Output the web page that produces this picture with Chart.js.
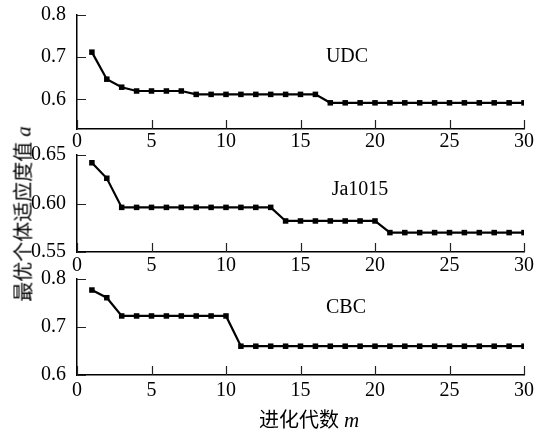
<!DOCTYPE html>
<html>
<head>
<meta charset="utf-8">
<script src="https://cdn.jsdelivr.net/npm/chart.js@4/dist/chart.umd.min.js"></script>
<style>
  body { margin: 0; background: #fff; }
  #wrap { position: relative; width: 539px; height: 430px; overflow: hidden; background: #fff; }
  canvas { position: absolute; left: 0; }
  .tag { position: absolute; font-family: "Liberation Serif", serif; font-size: 20px; color: #000; transform: translate(-50%, -50%); white-space: nowrap; }
  .cjk { font-family: "Noto Sans CJK SC", sans-serif; font-size: 20px; }
  .it { font-family: "Liberation Serif", serif; font-style: italic; font-size: 21px; }
</style>
</head>
<body>
<div id="wrap">
  <canvas id="c1"></canvas>
  <canvas id="c2"></canvas>
  <canvas id="c3"></canvas>
  <div class="tag" style="left:347px; top:55px;">UDC</div>
  <div class="tag" style="left:360px; top:188px;">Ja1015</div>
  <div class="tag" style="left:346px; top:306px;">CBC</div>
  <div class="tag" style="left:22px; top:214px; transform: translate(-50%, -50%) rotate(-90deg);"><span class="cjk">最优个体适应度值</span> <span class="it">a</span></div>
  <div class="tag" style="left:309px; top:418px;"><span class="cjk">进化代数</span> <span class="it">m</span></div>
</div>
<script>
// 进化代数
const generations = [1, 2, 3, 4, 5, 6, 7, 8, 9, 10, 11, 12, 13, 14, 15, 16, 17, 18, 19, 20, 21, 22, 23, 24, 25, 26, 27, 28, 29, 30];
const xTicks = [0, 5, 10, 15, 20, 25, 30];

// 最优个体适应度值
const udc = [0.712, 0.648, 0.629, 0.620, 0.620, 0.620, 0.620, 0.612, 0.612, 0.612, 0.612, 0.612, 0.612, 0.612, 0.612, 0.612,
             0.592, 0.592, 0.592, 0.592, 0.592, 0.592, 0.592, 0.592, 0.592, 0.592, 0.592, 0.592, 0.592, 0.592];
const ja1015 = [0.642, 0.626, 0.596, 0.596, 0.596, 0.596, 0.596, 0.596, 0.596, 0.596, 0.596, 0.596, 0.596,
                0.582, 0.582, 0.582, 0.582, 0.582, 0.582, 0.582,
                0.570, 0.570, 0.570, 0.570, 0.570, 0.570, 0.570, 0.570, 0.570, 0.570];
const cbc = [0.777, 0.761, 0.723, 0.723, 0.723, 0.723, 0.723, 0.723, 0.723, 0.723,
             0.660, 0.660, 0.660, 0.660, 0.660, 0.660, 0.660, 0.660, 0.660, 0.660,
             0.660, 0.660, 0.660, 0.660, 0.660, 0.660, 0.660, 0.660, 0.660, 0.660];

const udcTicks = [0.6, 0.7, 0.8];
const udcTickLabels = ['0.6', '0.7', '0.8'];
const jaTicks = [0.55, 0.60, 0.65];
const jaTickLabels = ['0.55', '0.60', '0.65'];
const cbcTicks = [0.6, 0.7, 0.8];
const cbcTickLabels = ['0.6', '0.7', '0.8'];

const PAD_TOP = 14, X_AXIS_H = 30, Y_AXIS_W = 77, W = 539;

Chart.defaults.font.family = "'Liberation Serif', 'Times New Roman', serif";
Chart.defaults.font.size = 20;
Chart.defaults.color = '#000';

// ticks pointing into the plot
const inwardTicks = {
  id: 'inwardTicks',
  afterDraw(chart) {
    const { ctx, chartArea: a, scales: { x, y } } = chart;
    ctx.save();
    ctx.strokeStyle = '#222';
    ctx.lineWidth = 1.2;
    ctx.beginPath();
    x.ticks.forEach(t => {
      const px = Math.round(x.getPixelForValue(t.value)) + 0.5;
      ctx.moveTo(px, a.bottom); ctx.lineTo(px, a.bottom - 9);
    });
    y.ticks.forEach(t => {
      const py = Math.round(y.getPixelForValue(t.value)) + 0.5;
      ctx.moveTo(a.left, py); ctx.lineTo(a.left + 9, py);
    });
    ctx.stroke();
    ctx.restore();
  }
};

function makePanel(id, plotTop, plotH, values, yMin, yMax, ticks, tickLabels, xPad) {
  const cv = document.getElementById(id);
  cv.width = W;
  cv.height = PAD_TOP + plotH + X_AXIS_H;
  cv.style.top = (plotTop - PAD_TOP) + 'px';
  return new Chart(cv, {
    type: 'line',
    data: {
      datasets: [{
        data: generations.map((g, i) => ({ x: g, y: values[i] })),
        borderColor: '#000',
        backgroundColor: '#000',
        borderWidth: 2.2,
        tension: 0,
        pointStyle: 'rect',
        pointRadius: 3.9,
        pointBorderWidth: 0
      }]
    },
    options: {
      responsive: false,
      animation: false,
      devicePixelRatio: 1,
      layout: { padding: { top: PAD_TOP, right: 15, left: 0, bottom: 0 } },
      plugins: { legend: { display: false }, tooltip: { enabled: false } },
      scales: {
        x: {
          type: 'linear', min: 0, max: 30,
          afterBuildTicks: s => { s.ticks = xTicks.map(v => ({ value: v })); },
          afterFit: s => { s.height = X_AXIS_H; },
          grid: { display: false },
          border: { display: true, color: '#000', width: 1.5 },
          ticks: { color: '#000', padding: xPad, maxRotation: 0 }
        },
        y: {
          min: yMin, max: yMax,
          afterBuildTicks: s => { s.ticks = ticks.map(v => ({ value: v })); },
          afterFit: s => { s.width = Y_AXIS_W; },
          grid: { display: false },
          border: { display: true, color: '#000', width: 1.5 },
          ticks: { color: '#000', padding: 3, callback: (v, i) => tickLabels[i] }
        }
      }
    },
    plugins: [inwardTicks]
  });
}

makePanel('c1', 14, 115, udc, 0.53, 0.8, udcTicks, udcTickLabels, -7);
makePanel('c2', 154, 98, ja1015, 0.55, 0.65, jaTicks, jaTickLabels, -6);
makePanel('c3', 278, 97, cbc, 0.6, 0.8, cbcTicks, cbcTickLabels, -4);
</script>
</body>
</html>
